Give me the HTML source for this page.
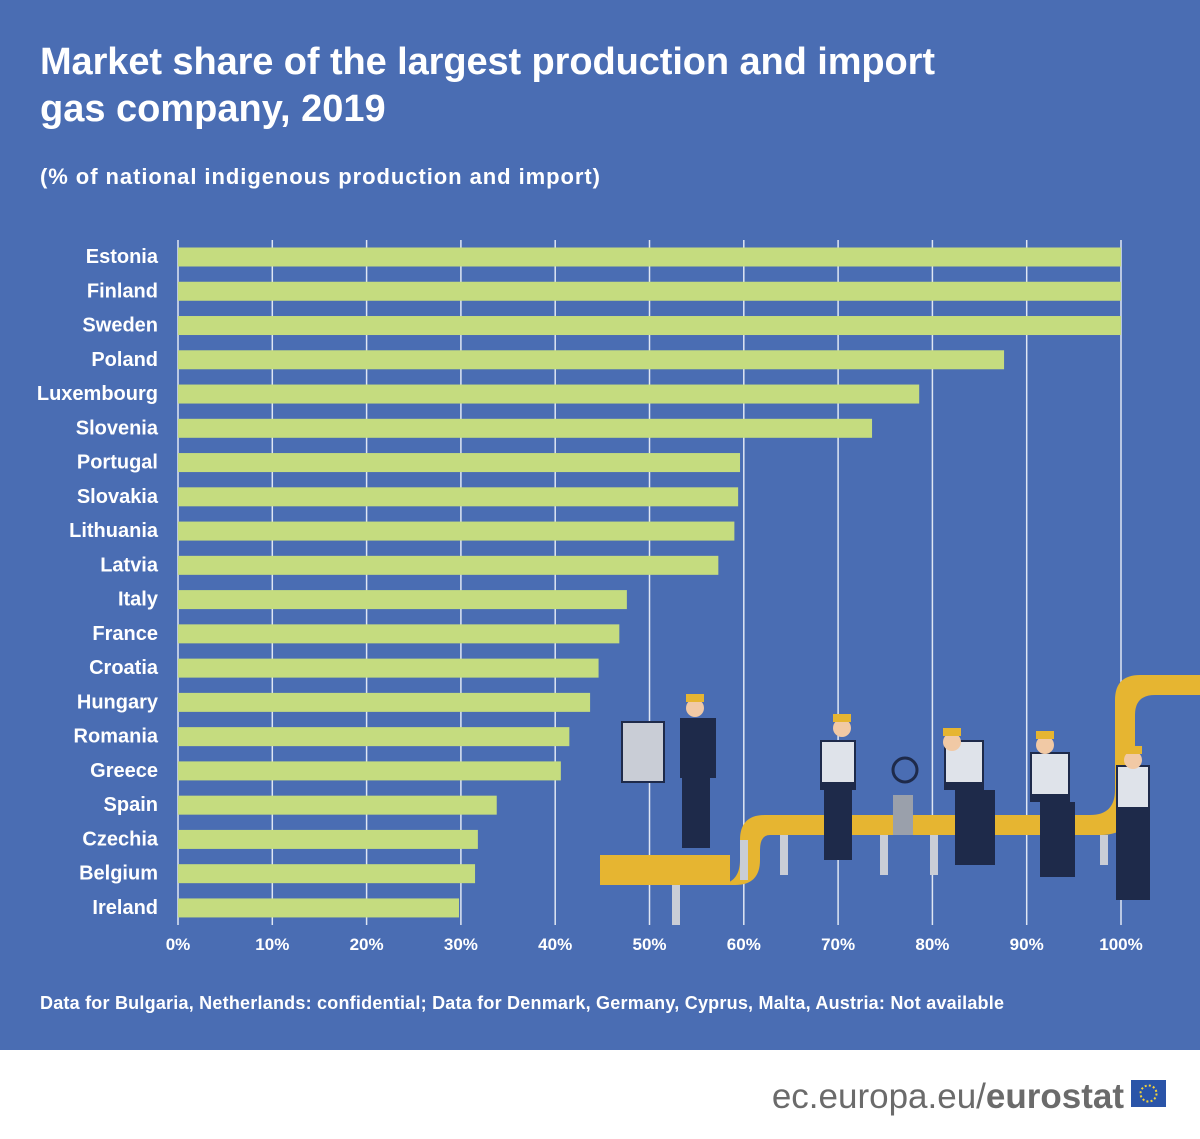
<!DOCTYPE html>
<html><head><meta charset="utf-8"><style>
body{margin:0;width:1200px;height:1134px;overflow:hidden;background:#fff;font-family:"Liberation Sans",sans-serif}
</style></head><body>
<svg id="c" width="1200" height="1134" xmlns="http://www.w3.org/2000/svg">
<rect x="0" y="0" width="1200" height="1050" fill="#4a6db3"/>
<text x="40" y="74" font-size="38" font-weight="bold" fill="#fff" textLength="895">Market share of the largest production and import</text>
<text x="40" y="121" font-size="38" font-weight="bold" fill="#fff">gas company, 2019</text>
<text x="40" y="184" font-size="22" font-weight="bold" fill="#fff" textLength="560">(% of national indigenous production and import)</text>
<g id="grid"></g>
<g id="illus">
 <path d="M715 885 Q740 885 740 860 L740 840 Q740 815 765 815 L1090 815 Q1115 815 1115 790 L1115 700 Q1115 675 1140 675 L1200 675 L1200 695 L1155 695 Q1135 695 1135 715 L1135 800 Q1135 835 1100 835 L770 835 Q760 835 760 850 L760 860 Q760 885 735 885 Z" fill="#e6b531"/>
 <rect x="600" y="855" width="130" height="30" fill="#e6b531"/>
 <g fill="#c9cdd6"><rect x="672" y="885" width="8" height="40"/><rect x="740" y="840" width="8" height="40"/><rect x="780" y="835" width="8" height="40"/><rect x="880" y="835" width="8" height="40"/><rect x="930" y="835" width="8" height="40"/><rect x="1040" y="835" width="8" height="40"/><rect x="1100" y="835" width="8" height="30"/></g>
 <rect x="622" y="722" width="42" height="60" fill="#c9cdd6" stroke="#1e2a4a" stroke-width="2"/>
 <rect x="893" y="795" width="20" height="40" fill="#9aa0ab"/>
 <circle cx="905" cy="770" r="12" fill="none" stroke="#1e2a4a" stroke-width="3"/>
 <g fill="#1e2a4a">
  <rect x="680" y="718" width="36" height="60"/><rect x="682" y="778" width="28" height="70"/>
  <rect x="820" y="740" width="36" height="50"/><rect x="824" y="790" width="28" height="70"/>
  <rect x="944" y="740" width="40" height="50"/><rect x="955" y="790" width="40" height="75"/>
  <rect x="1030" y="752" width="40" height="50"/><rect x="1040" y="802" width="35" height="75"/>
  <rect x="1116" y="765" width="34" height="50"/><rect x="1116" y="815" width="34" height="85"/>
 </g>
 <g fill="#dfe3ea"><rect x="822" y="742" width="32" height="40"/><rect x="946" y="742" width="36" height="40"/><rect x="1032" y="754" width="36" height="40"/><rect x="1118" y="767" width="30" height="40"/></g>
 <g fill="#f1c9a5"><circle cx="695" cy="708" r="9"/><circle cx="842" cy="728" r="9"/><circle cx="952" cy="742" r="9"/><circle cx="1045" cy="745" r="9"/><circle cx="1133" cy="760" r="9"/></g>
 <g fill="#e6b531"><rect x="686" y="694" width="18" height="8"/><rect x="833" y="714" width="18" height="8"/><rect x="943" y="728" width="18" height="8"/><rect x="1036" y="731" width="18" height="8"/><rect x="1124" y="746" width="18" height="8"/></g>
</g>
<g id="bars"></g>
<g id="labels"></g>
<g id="ticks"></g>
<text x="40" y="1009" font-size="18" font-weight="bold" fill="#fff" textLength="964">Data for Bulgaria, Netherlands: confidential; Data for Denmark, Germany, Cyprus, Malta, Austria: Not available</text>
<text x="1124" y="1108" font-size="35" fill="#6b6b6b" text-anchor="end">ec.europa.eu/<tspan font-weight="bold">eurostat</tspan></text>
<rect x="1131" y="1080" width="35" height="27" fill="#2a54a8"/>
<circle cx="1148.5" cy="1093.5" r="8" fill="none" stroke="#f5d33a" stroke-width="2" stroke-dasharray="2 2.2"/>
</svg>
<script>
const categories=["Estonia","Finland","Sweden","Poland","Luxembourg","Slovenia","Portugal","Slovakia","Lithuania","Latvia","Italy","France","Croatia","Hungary","Romania","Greece","Spain","Czechia","Belgium","Ireland"];
const values=[100,100,100,87.6,78.6,73.6,59.6,59.4,59.0,57.3,47.6,46.8,44.6,43.7,41.5,40.6,33.8,31.8,31.5,29.8];
const tickValues=[0,10,20,30,40,50,60,70,80,90,100];
const tickLabels=["0%","10%","20%","30%","40%","50%","60%","70%","80%","90%","100%"];
const NS="http://www.w3.org/2000/svg";
const x=v=>178+v*9.43;
const y=i=>257+i*34.26;
function mk(t,a,p){const e=document.createElementNS(NS,t);for(const k in a)e.setAttribute(k,a[k]);p.appendChild(e);return e;}
const grid=document.getElementById('grid'),bars=document.getElementById('bars'),labels=document.getElementById('labels'),ticks=document.getElementById('ticks');
tickValues.forEach((v,i)=>{
 const l=mk('line',{x1:x(v),x2:x(v),y1:240,y2:925,stroke:'#dfe6f3','stroke-width':1.5},grid);
 
 
 const t=mk('text',{x:x(v),y:950,'font-size':17,'font-weight':'bold',fill:'#fff','text-anchor':'middle'},ticks);
 t.textContent=tickLabels[i];
 
 
});
categories.forEach((c,i)=>{
 const r=mk('rect',{x:x(0),y:y(i)-9.5,width:x(values[i])-x(0),height:19,fill:'#c5dc7f'},bars);
 
 
 const t=mk('text',{x:158,y:y(i)+6,'font-size':20,'font-weight':'bold',fill:'#fff','text-anchor':'end'},labels);
 t.textContent=c;
 
 
});
</script>
</body></html>
